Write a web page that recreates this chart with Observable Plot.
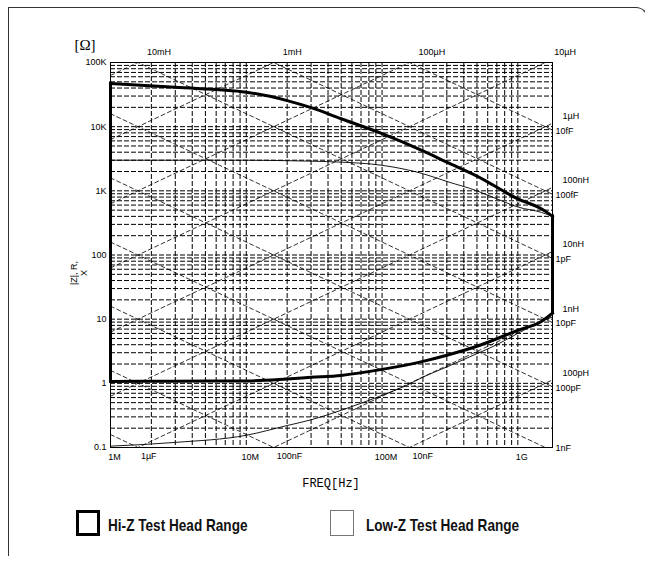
<!DOCTYPE html>
<html>
<head>
<meta charset="utf-8">
<script src="https://cdn.jsdelivr.net/npm/d3@7"></script>
<script src="https://cdn.jsdelivr.net/npm/@observablehq/plot@0.6"></script>
<style>
  html, body { margin: 0; padding: 0; background: #fff; }
  #wrap { position: relative; width: 645px; height: 563px; overflow: hidden; background: #fff; }
  #box { position: absolute; left: 8px; top: 7px; width: 640px; height: 549px; box-sizing: border-box;
         border: 1.5px solid #333; border-bottom: none; border-top-right-radius: 12px; }
  #chart { position: absolute; left: 0; top: 0; }
  .leg { position: absolute; font-family: "Liberation Sans", Arial, sans-serif;
         font-weight: bold; font-size: 17px; color: #111; transform: scaleX(0.8); transform-origin: 0 50%; white-space: nowrap; }
  .sw { position: absolute; box-sizing: border-box; }
</style>
</head>
<body>
<div id="wrap">
  <div id="box"></div>
  <div id="chart"></div>
  <div class="sw" style="left:76px;top:510px;width:24px;height:26px;border:3px solid #000;"></div>
  <div class="leg" style="left:108px;top:516px;">Hi-Z Test Head Range</div>
  <div class="sw" style="left:330px;top:510px;width:24px;height:26px;border:1px solid #777;"></div>
  <div class="leg" style="left:366px;top:516px;">Low-Z Test Head Range</div>
</div>
<script>
// ---- data ----
const freqMin = 1e6, freqMax = 1.8e9;
const zMin = 0.1, zMax = 1e5;

// Hi-Z test head range boundary
const hiZFreq  = [1e6, 3e6, 10e6, 20e6, 30e6, 50e6, 100e6, 200e6, 300e6, 500e6, 1e9, 1.5e9, 1.8e9];
const hiZUpper = [47000, 41000, 34500, 25500, 19800, 13300, 7800, 4200, 2800, 1700, 750, 520, 400];
const hiZLower = [1.07, 1.08, 1.09, 1.17, 1.24, 1.33, 1.65, 2.2, 2.74, 3.78, 6.7, 9.3, 12.4];

// Low-Z test head range boundary
const lowZFreq  = [1e6, 3e6, 10e6, 20e6, 30e6, 50e6, 100e6, 150e6, 200e6, 300e6, 500e6, 700e6, 1e9, 1.5e9, 1.8e9];
const lowZUpper = [3000, 3000, 3000, 2950, 2900, 2800, 2500, 2150, 1850, 1400, 1000, 750, 560, 460, 400];
const lowZLower = [0.105, 0.12, 0.155, 0.22, 0.27, 0.38, 0.65, 0.92, 1.25, 1.8, 2.9, 4.0, 6.0, 9.3, 10.8];

// constant-L and constant-C reference lines
const inductances = [10e-3, 1e-3, 100e-6, 10e-6, 1e-6, 100e-9, 10e-9, 1e-9, 100e-12];
const inductanceLabels = ["10mH", "1mH", "100µH", "10µH", "1µH", "100nH", "10nH", "1nH", "100pH"];
const capacitances = [1e-6, 100e-9, 10e-9, 1e-9, 100e-12, 10e-12, 1e-12, 100e-15, 10e-15];
const capacitanceLabels = ["1µF", "100nF", "10nF", "1nF", "100pF", "10pF", "1pF", "100fF", "10fF"];

// axis tick labels
const xTicks = [1e6, 1e7, 1e8, 1e9];
const xTickLabels = ["1M", "10M", "100M", "1G"];
const yTicks = [0.1, 1, 10, 100, 1e3, 1e4, 1e5];
const yTickLabels = ["0.1", "1", "10", "100", "1K", "10K", "100K"];

// ---- derived tables ----
const minorGrid = (lo, hi) => {
  const out = [];
  for (let e = Math.floor(Math.log10(lo)); e <= Math.ceil(Math.log10(hi)); e++)
    for (let m = 1; m <= 9; m++) { const v = m * Math.pow(10, e); if (v > lo * 1.0001 && v < hi * 0.9999) out.push(v); }
  return out;
};
const xGrid = minorGrid(freqMin, freqMax);
const yGrid = minorGrid(zMin, zMax);

const twoPi = 2 * Math.PI;
const lLines = [], cLines = [];
inductances.forEach((L, i) => {
  [freqMin, freqMax].forEach(f => lLines.push({id: i, f, z: twoPi * f * L}));
});
capacitances.forEach((C, i) => {
  [freqMin, freqMax].forEach(f => cLines.push({id: i, f, z: 1 / (twoPi * f * C)}));
});

// label anchor points: where each line leaves the plot frame
const topL = [], rightL = [], bottomC = [], rightC = [];
inductances.forEach((L, i) => {
  const fTop = zMax / (twoPi * L);
  if (fTop <= freqMax) topL.push({f: fTop, z: zMax, t: inductanceLabels[i]});
  else rightL.push({f: freqMax, z: twoPi * freqMax * L, t: inductanceLabels[i]});
});
capacitances.forEach((C, i) => {
  const fBot = 1 / (twoPi * zMin * C);
  if (fBot < 1.5e9) bottomC.push({f: fBot, z: zMin, t: capacitanceLabels[i]});
  else rightC.push({f: freqMax, z: Math.max(zMin, 1 / (twoPi * freqMax * C)), t: capacitanceLabels[i]});
});

const hiUpper = hiZFreq.map((f, i) => ({f, z: hiZUpper[i]}));
const hiLower = hiZFreq.map((f, i) => ({f, z: hiZLower[i]}));
const loUpper = lowZFreq.map((f, i) => ({f, z: lowZUpper[i]}));
const loLower = lowZFreq.map((f, i) => ({f, z: lowZLower[i]}));
const hiEdges = [
  {f: hiZFreq[0], z1: hiZLower[0], z2: hiZUpper[0]},
  {f: hiZFreq[hiZFreq.length - 1], z1: hiZLower[hiZLower.length - 1], z2: hiZUpper[hiZUpper.length - 1]}
];

const font = "'Liberation Sans', Arial, sans-serif";

const chart = Plot.plot({
  width: 645,
  height: 500,
  marginLeft: 110,
  marginRight: 93,
  marginTop: 62,
  marginBottom: 53,
  style: {background: "transparent", fontFamily: font, fontSize: "9px", color: "#000", overflow: "visible"},
  x: {type: "log", domain: [freqMin, freqMax], axis: null},
  y: {type: "log", domain: [zMin, zMax], axis: null},
  marks: [
    Plot.ruleX(xGrid, {x: d => d, stroke: "#000", strokeWidth: 1, strokeDasharray: "5,2"}),
    Plot.ruleY(yGrid, {y: d => d, stroke: "#000", strokeWidth: 1, strokeDasharray: "5,2"}),
    Plot.line(lLines, {x: "f", y: "z", z: "id", stroke: "#000", strokeWidth: 0.8, strokeDasharray: "4,3", clip: true}),
    Plot.line(cLines, {x: "f", y: "z", z: "id", stroke: "#000", strokeWidth: 0.8, strokeDasharray: "4,3", clip: true}),
    Plot.line(loUpper, {x: "f", y: "z", stroke: "#000", strokeWidth: 0.9, curve: "monotone-x"}),
    Plot.line(loLower, {x: "f", y: "z", stroke: "#000", strokeWidth: 0.9, curve: "monotone-x"}),
    Plot.frame({stroke: "#000", strokeWidth: 1}),
    Plot.line(hiUpper, {x: "f", y: "z", stroke: "#000", strokeWidth: 3, curve: "monotone-x", strokeLinecap: "square"}),
    Plot.line(hiLower, {x: "f", y: "z", stroke: "#000", strokeWidth: 3, curve: "monotone-x", strokeLinecap: "square"}),
    Plot.ruleX(hiEdges, {x: "f", y1: "z1", y2: "z2", stroke: "#000", strokeWidth: 3, strokeLinecap: "square"}),
    // axis tick labels
    Plot.text(yTicks, {y: d => d, text: (d, i) => yTickLabels[i], frameAnchor: "left", textAnchor: "end", dx: -4}),
    Plot.text(xTicks, {x: d => d, text: (d, i) => xTickLabels[i], frameAnchor: "bottom", dy: 12, dx: 4}),
    // L / C labels
    Plot.text(topL, {x: "f", y: "z", text: "t", textAnchor: "start", dx: 9, dy: -10}),
    Plot.text(rightL, {x: "f", y: "z", text: "t", textAnchor: "start", dx: 10, dy: -7}),
    Plot.text(bottomC, {x: "f", y: "z", text: "t", textAnchor: "start", dx: 3, dy: 9}),
    Plot.text(rightC, {x: "f", y: "z", text: "t", textAnchor: "start", dx: 3, dy: 1})
  ]
});

document.getElementById("chart").appendChild(chart);

// axis titles
const svg = d3.select(chart);
svg.append("text")
  .attr("x", 85).attr("y", 50)
  .attr("font-family", "'Liberation Serif', 'DejaVu Serif', serif")
  .attr("font-size", 15)
  .attr("fill", "#000")
  .text("[Ω]");
svg.append("text")
  .attr("x", 331).attr("y", 487)
  .attr("text-anchor", "middle")
  .attr("font-family", "'Liberation Mono', 'DejaVu Sans Mono', monospace")
  .attr("font-size", 12)
  .attr("fill", "#000")
  .text("FREQ[Hz]");
const yl = svg.append("text")
  .attr("transform", "translate(77,273) rotate(-90)")
  .attr("font-family", font)
  .attr("font-size", 9)
  .attr("fill", "#000");
yl.append("tspan").attr("x", 0).attr("dy", 0).text("|Z|, R,");
yl.append("tspan").attr("x", 0).attr("dy", "1.1em").text("X");
</script>
</body>
</html>
